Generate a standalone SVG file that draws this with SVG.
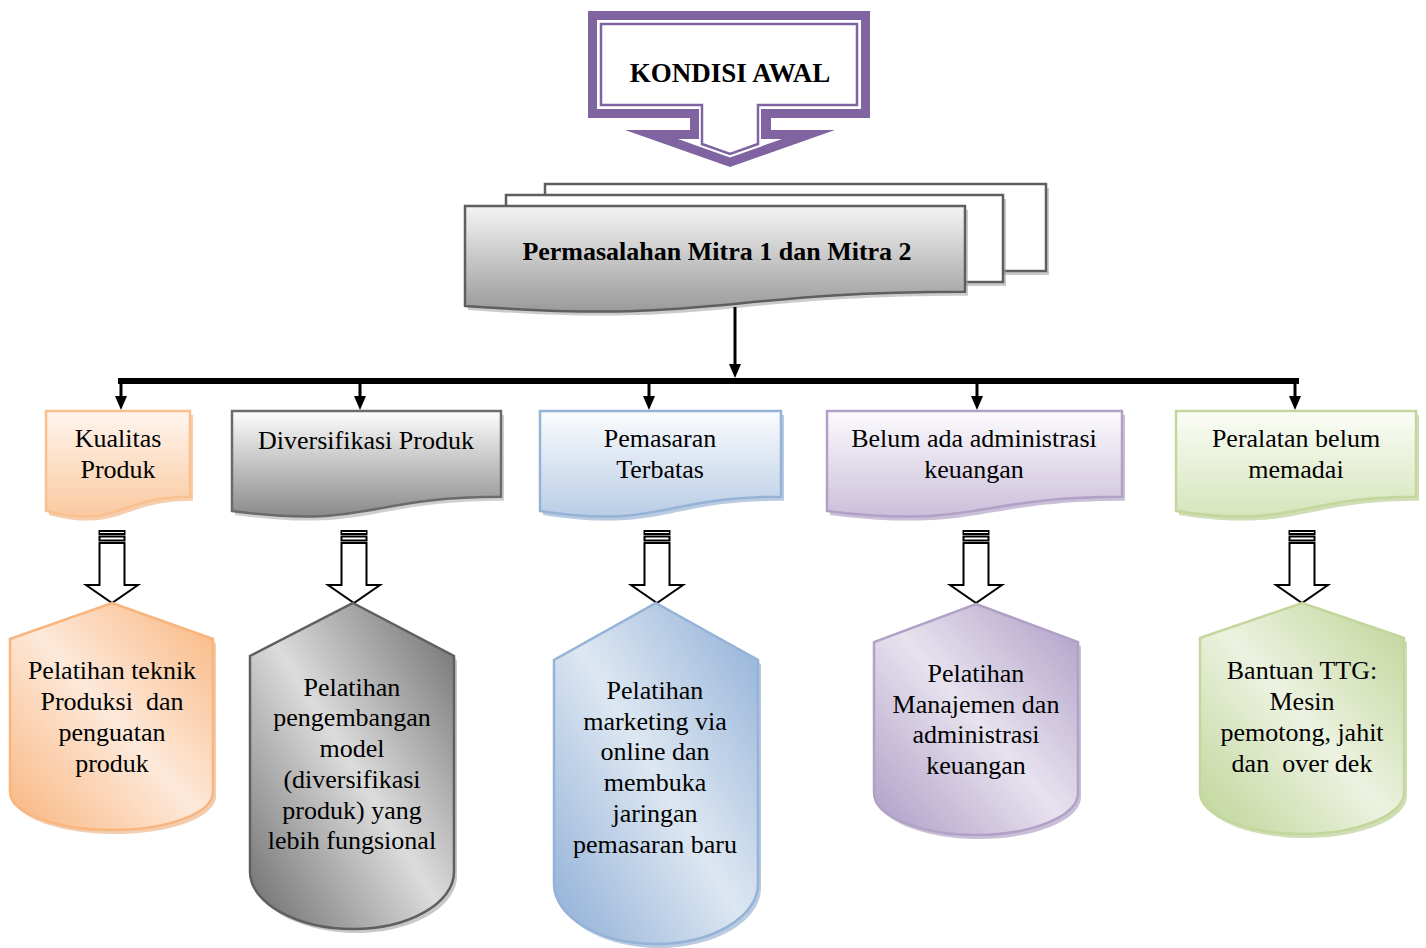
<svg xmlns="http://www.w3.org/2000/svg" width="1426" height="948" viewBox="0 0 1426 948">
<style>
text{font-family:"Liberation Serif","Times New Roman",serif;fill:#000;text-anchor:middle;white-space:pre}
.t26{font-size:26px}
.b26{font-size:26px;font-weight:bold}
.conn{stroke:#000;stroke-width:3;fill:none}
.head{fill:#000}
.blk{fill:#fff;stroke:#000;stroke-width:2;stroke-linejoin:miter}
.sh{opacity:.55}
</style>
<defs>
<linearGradient id="gPerm" x1="0" y1="0" x2="0" y2="1"><stop offset="0" stop-color="#f4f4f4"/><stop offset="1" stop-color="#9a9a9a"/></linearGradient>
<linearGradient id="gO" x1="0" y1="0" x2="0" y2="1"><stop offset="0" stop-color="#fef5ee"/><stop offset="1" stop-color="#fbc9a0"/></linearGradient>
<linearGradient id="gG" x1="0" y1="0" x2="0" y2="1"><stop offset="0" stop-color="#fdfdfd"/><stop offset="1" stop-color="#8a8a8a"/></linearGradient>
<linearGradient id="gB" x1="0" y1="0" x2="0" y2="1"><stop offset="0" stop-color="#fbfcfe"/><stop offset="1" stop-color="#b9cde5"/></linearGradient>
<linearGradient id="gP" x1="0" y1="0" x2="0" y2="1"><stop offset="0" stop-color="#fcfbfd"/><stop offset="1" stop-color="#cbbfda"/></linearGradient>
<linearGradient id="gV" x1="0" y1="0" x2="0" y2="1"><stop offset="0" stop-color="#fbfdf7"/><stop offset="1" stop-color="#d6e4bb"/></linearGradient>
<linearGradient id="dO" x1="1" y1="0" x2="0" y2="1"><stop offset="0" stop-color="#f9b57e"/><stop offset="0.5" stop-color="#fde9da"/><stop offset="1" stop-color="#f9b57e"/></linearGradient>
<linearGradient id="dG" x1="1" y1="0" x2="0" y2="1"><stop offset="0" stop-color="#6a6a6a"/><stop offset="0.5" stop-color="#dcdcdc"/><stop offset="1" stop-color="#6a6a6a"/></linearGradient>
<linearGradient id="dB" x1="1" y1="0" x2="0" y2="1"><stop offset="0" stop-color="#8eaed6"/><stop offset="0.5" stop-color="#dde7f2"/><stop offset="1" stop-color="#8eaed6"/></linearGradient>
<linearGradient id="dP" x1="1" y1="0" x2="0" y2="1"><stop offset="0" stop-color="#ad9cc5"/><stop offset="0.5" stop-color="#e7e2ee"/><stop offset="1" stop-color="#ad9cc5"/></linearGradient>
<linearGradient id="dV" x1="1" y1="0" x2="0" y2="1"><stop offset="0" stop-color="#bfd496"/><stop offset="0.5" stop-color="#ecf2e0"/><stop offset="1" stop-color="#bfd496"/></linearGradient>
</defs>

<g id="kondisi-awal">
<path d="M588,11 H870 V118 H771 V130 H835 L730,167 L625,130 H690 V118 H588 Z" fill="#8064a2"/>
<path d="M597,20 H861 V109 H761 V139 H782 L730,157.5 L678,139 H699 V109 H597 Z" fill="#fff"/>
<path d="M601,24 H857 V105 H758 V144 L730,154 L702,144 V105 H601 Z" fill="#fff" stroke="#8064a2" stroke-width="2.5"/>
<text class="b26" x="730" y="82" style="font-size:27px">KONDISI AWAL</text>
</g>

<g id="permasalahan">
<rect x="548" y="188" width="501" height="87" fill="#9e9e9e" class="sh"/>
<rect x="545" y="184" width="501" height="87" fill="#fff" stroke="#5f5f5f" stroke-width="2.5"/>
<rect x="509" y="199" width="497" height="87" fill="#9e9e9e" class="sh"/>
<rect x="506" y="195" width="497" height="87" fill="#fff" stroke="#5f5f5f" stroke-width="2.5"/>
<path d="M465,206 H965 V291.8 C715,291.8 715,324.5 465,305.9 Z" fill="#a0a0a0" class="sh" transform="translate(3,4)"/>
<path d="M465,206 H965 V291.8 C715,291.8 715,324.5 465,305.9 Z" fill="url(#gPerm)" stroke="#5f5f5f" stroke-width="2.5"/>
<text class="b26" x="717" y="260">Permasalahan Mitra 1 dan Mitra 2</text>
</g>

<g id="connectors">
<line class="conn" x1="735" y1="307" x2="735" y2="366"/>
<polygon class="head" points="729,364 741,364 735,378"/>
<line x1="118" y1="381" x2="1299" y2="381" stroke="#000" stroke-width="6"/>
<line class="conn" x1="121" y1="381" x2="121" y2="398"/>
<polygon class="head" points="115,396 127,396 121,410"/>
<line class="conn" x1="360" y1="381" x2="360" y2="398"/>
<polygon class="head" points="354,396 366,396 360,410"/>
<line class="conn" x1="649" y1="381" x2="649" y2="398"/>
<polygon class="head" points="643,396 655,396 649,410"/>
<line class="conn" x1="977" y1="381" x2="977" y2="398"/>
<polygon class="head" points="971,396 983,396 977,410"/>
<line class="conn" x1="1295" y1="381" x2="1295" y2="398"/>
<polygon class="head" points="1289,396 1301,396 1295,410"/>
<g id="block-arrows">
<g transform="translate(112,0)">
<rect class="blk" x="-12.5" y="531" width="25" height="3"/>
<rect class="blk" x="-12.5" y="536.5" width="25" height="4"/>
<path class="blk" d="M-12.5,543 H12.5 V585 H26 L0,603 L-26,585 H-12.5 Z"/>
</g>
<g transform="translate(354,0)">
<rect class="blk" x="-12.5" y="531" width="25" height="3"/>
<rect class="blk" x="-12.5" y="536.5" width="25" height="4"/>
<path class="blk" d="M-12.5,543 H12.5 V585 H26 L0,603 L-26,585 H-12.5 Z"/>
</g>
<g transform="translate(657,0)">
<rect class="blk" x="-12.5" y="531" width="25" height="3"/>
<rect class="blk" x="-12.5" y="536.5" width="25" height="4"/>
<path class="blk" d="M-12.5,543 H12.5 V585 H26 L0,603 L-26,585 H-12.5 Z"/>
</g>
<g transform="translate(976,0)">
<rect class="blk" x="-12.5" y="531" width="25" height="3"/>
<rect class="blk" x="-12.5" y="536.5" width="25" height="4"/>
<path class="blk" d="M-12.5,543 H12.5 V585 H26 L0,603 L-26,585 H-12.5 Z"/>
</g>
<g transform="translate(1302,0)">
<rect class="blk" x="-12.5" y="531" width="25" height="3"/>
<rect class="blk" x="-12.5" y="536.5" width="25" height="4"/>
<path class="blk" d="M-12.5,543 H12.5 V585 H26 L0,603 L-26,585 H-12.5 Z"/>
</g>
</g>
</g>

<g id="kualitas-produk">
<path d="M46,411 H190 V496.8 C118,496.8 118,529.5 46,510.9 Z" fill="#eea46a" class="sh" transform="translate(3,4)"/>
<path d="M46,411 H190 V496.8 C118,496.8 118,529.5 46,510.9 Z" fill="url(#gO)" stroke="#fac090" stroke-width="2.5"/>
<text class="t26" x="118" y="447">Kualitas</text>
<text class="t26" x="118" y="478">Produk</text>
</g>

<g id="diversifikasi-produk">
<path d="M232,411 H501 V496.8 C366.5,496.8 366.5,529.5 232,510.9 Z" fill="#a8a8a8" class="sh" transform="translate(3,4)"/>
<path d="M232,411 H501 V496.8 C366.5,496.8 366.5,529.5 232,510.9 Z" fill="url(#gG)" stroke="#6b6b6b" stroke-width="2.5"/>
<text class="t26" x="366" y="449">Diversifikasi Produk</text>
</g>

<g id="pemasaran-terbatas">
<path d="M540,411 H781 V496.8 C660.5,496.8 660.5,529.5 540,510.9 Z" fill="#7f9ec8" class="sh" transform="translate(3,4)"/>
<path d="M540,411 H781 V496.8 C660.5,496.8 660.5,529.5 540,510.9 Z" fill="url(#gB)" stroke="#95b3d7" stroke-width="2.5"/>
<text class="t26" x="660" y="447">Pemasaran</text>
<text class="t26" x="660" y="478">Terbatas</text>
</g>

<g id="belum-ada-administrasi">
<path d="M827,411 H1122 V496.8 C974.5,496.8 974.5,529.5 827,510.9 Z" fill="#9d8bb6" class="sh" transform="translate(3,4)"/>
<path d="M827,411 H1122 V496.8 C974.5,496.8 974.5,529.5 827,510.9 Z" fill="url(#gP)" stroke="#b2a1c7" stroke-width="2.5"/>
<text class="t26" x="974" y="447">Belum ada administrasi</text>
<text class="t26" x="974" y="478">keuangan</text>
</g>

<g id="peralatan-belum-memadai">
<path d="M1176,411 H1416 V496.8 C1296,496.8 1296,529.5 1176,510.9 Z" fill="#a9c27a" class="sh" transform="translate(3,4)"/>
<path d="M1176,411 H1416 V496.8 C1296,496.8 1296,529.5 1176,510.9 Z" fill="url(#gV)" stroke="#c3d69b" stroke-width="2.5"/>
<text class="t26" x="1296" y="447">Peralatan belum</text>
<text class="t26" x="1296" y="478">memadai</text>
</g>

<g id="pelatihan-teknik">
<path d="M112,603 L213,639 L213,792 C213,813 168,830 112,830 C56,830 10,813 10,792 L10,639 Z" fill="#e9a46d" class="sh" transform="translate(3,4)"/>
<path d="M112,603 L213,639 L213,792 C213,813 168,830 112,830 C56,830 10,813 10,792 L10,639 Z" fill="url(#dO)" stroke="#f9b57e" stroke-width="2.5"/>
<text class="t26" x="112" y="679">Pelatihan teknik</text>
<text class="t26" x="112" y="710">Produksi  dan</text>
<text class="t26" x="112" y="741">penguatan</text>
<text class="t26" x="112" y="772">produk</text>
</g>

<g id="pelatihan-pengembangan">
<path d="M353,603 L454,656 L454,872 C454,903 409,929 353,929 C297,929 250,903 250,872 L250,656 Z" fill="#9a9a9a" class="sh" transform="translate(3,4)"/>
<path d="M353,603 L454,656 L454,872 C454,903 409,929 353,929 C297,929 250,903 250,872 L250,656 Z" fill="url(#dG)" stroke="#5f5f5f" stroke-width="2.5"/>
<text class="t26" x="352" y="696">Pelatihan</text>
<text class="t26" x="352" y="726">pengembangan</text>
<text class="t26" x="352" y="757">model</text>
<text class="t26" x="352" y="788">(diversifikasi</text>
<text class="t26" x="352" y="819">produk) yang</text>
<text class="t26" x="352" y="849">lebih fungsional</text>
</g>

<g id="pelatihan-marketing">
<path d="M656,603 L758,660 L758,884 C758,917 712,944 656,944 C600,944 554,917 554,884 L554,660 Z" fill="#7f9ec8" class="sh" transform="translate(3,4)"/>
<path d="M656,603 L758,660 L758,884 C758,917 712,944 656,944 C600,944 554,917 554,884 L554,660 Z" fill="url(#dB)" stroke="#95b3d7" stroke-width="2.5"/>
<text class="t26" x="655" y="699">Pelatihan</text>
<text class="t26" x="655" y="730">marketing via</text>
<text class="t26" x="655" y="760">online dan</text>
<text class="t26" x="655" y="791">membuka</text>
<text class="t26" x="655" y="822">jaringan</text>
<text class="t26" x="655" y="853">pemasaran baru</text>
</g>

<g id="pelatihan-manajemen">
<path d="M976,604 L1078,642 L1078,793 C1078,816 1032,835 976,835 C920,835 874,816 874,793 L874,642 Z" fill="#9d8bb6" class="sh" transform="translate(3,4)"/>
<path d="M976,604 L1078,642 L1078,793 C1078,816 1032,835 976,835 C920,835 874,816 874,793 L874,642 Z" fill="url(#dP)" stroke="#b2a1c7" stroke-width="2.5"/>
<text class="t26" x="976" y="682">Pelatihan</text>
<text class="t26" x="976" y="713">Manajemen dan</text>
<text class="t26" x="976" y="743">administrasi</text>
<text class="t26" x="976" y="774">keuangan</text>
</g>

<g id="bantuan-ttg">
<path d="M1302,603 L1404,638 L1404,792 C1404,815 1358,834 1302,834 C1246,834 1200,815 1200,792 L1200,638 Z" fill="#a9c27a" class="sh" transform="translate(3,4)"/>
<path d="M1302,603 L1404,638 L1404,792 C1404,815 1358,834 1302,834 C1246,834 1200,815 1200,792 L1200,638 Z" fill="url(#dV)" stroke="#c3d69b" stroke-width="2.5"/>
<text class="t26" x="1302" y="679">Bantuan TTG:</text>
<text class="t26" x="1302" y="710">Mesin</text>
<text class="t26" x="1302" y="741">pemotong, jahit</text>
<text class="t26" x="1302" y="772">dan  over dek</text>
</g>
</svg>
